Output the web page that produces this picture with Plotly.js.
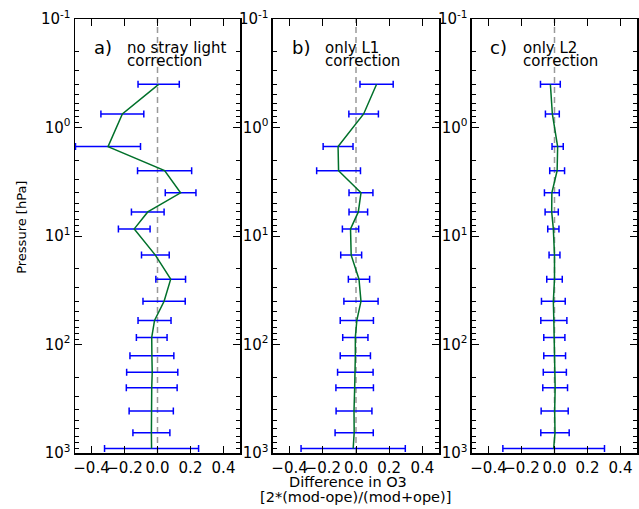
<!DOCTYPE html>
<html>
<head>
<meta charset="utf-8">
<script src="https://cdn.plot.ly/plotly-3.0.1.min.js"></script>
<style>html,body{margin:0;padding:0;background:#fff;}#chart{width:639px;height:509px;}</style>
</head>
<body>
<div id="chart"></div>
<script>
// Pressure levels [hPa]
var pressure = [0.4, 0.75, 1.5, 2.5, 4, 6, 8.6, 15, 25, 40, 60, 86, 127, 180, 250, 410, 650, 910];

// a) no stray light correction
var diffA = [0.007, -0.213, -0.30, 0.043, 0.14, -0.059, -0.141, -0.013, 0.08, 0.04, -0.018, -0.035, -0.034, -0.032, -0.035, -0.038, -0.037, -0.036];
var errA  = [0.125, 0.13, 0.197, 0.164, 0.093, 0.099, 0.096, 0.084, 0.09, 0.128, 0.1, 0.093, 0.133, 0.155, 0.154, 0.134, 0.112, 0.285];

// b) only L1 correction
var diffB = [0.124, 0.046, -0.108, -0.105, 0.03, 0.014, -0.033, -0.029, 0.018, 0.03, 0.005, -0.004, -0.004, -0.004, -0.008, -0.012, -0.011, -0.017];
var errB  = [0.1, 0.089, 0.09, 0.132, 0.072, 0.056, 0.049, 0.063, 0.064, 0.103, 0.1, 0.076, 0.091, 0.107, 0.113, 0.108, 0.115, 0.314];

// c) only L2 correction
var diffC = [-0.025, -0.013, 0.019, 0.016, -0.016, -0.017, -0.007, 0, 0, -0.007, -0.004, -0.001, 0.001, 0.002, 0.004, 0.001, 0.003, -0.005];
var errC  = [0.06, 0.042, 0.034, 0.045, 0.045, 0.04, 0.034, 0.033, 0.047, 0.072, 0.079, 0.064, 0.066, 0.07, 0.075, 0.082, 0.086, 0.308];

var panelLabels = ['a)', 'b)', 'c)'];
var panelLine1 = ['no stray light', 'only L1', 'only L2'];
var panelLine2 = ['correction', 'correction', 'correction'];

var xTickVals = [-0.4, -0.2, 0.0, 0.2, 0.4];
var xTickText = ['\u22120.4', '\u22120.2', '0.0', '0.2', '0.4'];
var yTickVals = [0.1, 1, 10, 100, 1000];
var yTickText = ['10<sup>-1</sup>', '10<sup>0</sup>', '10<sup>1</sup>', '10<sup>2</sup>', '10<sup>3</sup>'];

var yTitle = 'Pressure [hPa]';
var xTitle1 = 'Difference in O3';
var xTitle2 = '[2*(mod-ope)/(mod+ope)]';

var minorVals = [];
[0.1, 1, 10, 100].forEach(function (d) { for (var k = 2; k <= 9; k++) minorVals.push(d * k); });

var FONT = 'DejaVu Sans, sans-serif';
var diffs = [diffA, diffB, diffC];
var errs = [errA, errB, errC];
var suffix = ['', '2', '3'];
var domains = [[0, 0.2936], [0.3523, 0.6477], [0.7064, 1]];

var traces = [];
var layout = {
  width: 639, height: 509,
  margin: {l: 75, r: 2, t: 19, b: 56},
  paper_bgcolor: '#fff', plot_bgcolor: '#fff',
  showlegend: false,
  font: {family: FONT, color: '#000', size: 15},
  shapes: [], annotations: []
};

for (var i = 0; i < 3; i++) {
  var xa = 'x' + suffix[i], ya = 'y' + suffix[i];
  traces.push({
    x: diffs[i], y: pressure, xaxis: xa, yaxis: ya, type: 'scatter', mode: 'markers',
    marker: {size: 2, opacity: 0},
    error_x: {type: 'data', array: errs[i], visible: true, color: '#0000ff', thickness: 1.5, width: 3.5},
    hoverinfo: 'none'
  });
  traces.push({
    x: diffs[i], y: pressure, xaxis: xa, yaxis: ya, type: 'scatter', mode: 'lines',
    line: {color: '#00702a', width: 1.5},
    hoverinfo: 'none'
  });
  layout['xaxis' + suffix[i]] = {
    domain: domains[i], anchor: ya, range: [-0.5, 0.5],
    tickmode: 'array', tickvals: xTickVals, ticktext: xTickText, tickangle: 0,
    ticks: 'inside', ticklen: 7, tickwidth: 1, tickcolor: '#000',
    showline: true, linecolor: '#000', linewidth: 1.5, mirror: 'ticks',
    showgrid: false, zeroline: false, tickfont: {size: 15, family: FONT}
  };
  layout['yaxis' + suffix[i]] = {
    domain: [0, 1], anchor: xa, type: 'log', range: [3, -1],
    tickmode: 'array', tickvals: yTickVals, ticktext: yTickText,
    ticks: 'inside', ticklen: 7, tickwidth: 1, tickcolor: '#000',
    minor: {tickmode: 'array', tickvals: minorVals, ticks: 'inside', ticklen: 4, tickwidth: 1, tickcolor: '#000', showgrid: false},
    showline: true, linecolor: '#000', linewidth: 1.5, mirror: 'ticks',
    showgrid: false, zeroline: false, tickfont: {size: 15, family: FONT}
  };
  layout.shapes.push({
    type: 'line', xref: xa, yref: ya + ' domain', x0: 0, x1: 0, y0: 0, y1: 1,
    line: {color: '#999999', width: 1.5, dash: '6px,4px'}, layer: 'below'
  });
  layout.annotations.push({
    xref: xa + ' domain', yref: ya + ' domain', x: 0.1, y: 0.935, xanchor: 'left', yanchor: 'middle',
    text: panelLabels[i], showarrow: false, font: {size: 18, family: FONT}
  });
  layout.annotations.push({
    xref: xa + ' domain', yref: ya + ' domain', x: 0.3, y: 0.933, xanchor: 'left', yanchor: 'middle',
    text: panelLine1[i], showarrow: false, font: {size: 15, family: FONT}
  });
  layout.annotations.push({
    xref: xa + ' domain', yref: ya + ' domain', x: 0.3, y: 0.903, xanchor: 'left', yanchor: 'middle',
    text: panelLine2[i], showarrow: false, font: {size: 15, family: FONT}
  });
}

layout.annotations.push({
  xref: 'paper', yref: 'paper', x: -0.0952, y: 0.52, xanchor: 'center', yanchor: 'middle',
  text: yTitle, textangle: -90, showarrow: false, font: {size: 13, family: FONT}
});
layout.annotations.push({
  xref: 'paper', yref: 'paper', x: (348.3 - 75) / 562, y: -(481.7 - 453) / 434, xanchor: 'center', yanchor: 'middle',
  text: xTitle1, showarrow: false, font: {size: 14.5, family: FONT}
});
layout.annotations.push({
  xref: 'paper', yref: 'paper', x: (355.5 - 75) / 562, y: -(497 - 453) / 434, xanchor: 'center', yanchor: 'middle',
  text: xTitle2, showarrow: false, font: {size: 14.5, family: FONT}
});

Plotly.newPlot('chart', traces, layout, {staticPlot: true, displayModeBar: false});
</script>
</body>
</html>
